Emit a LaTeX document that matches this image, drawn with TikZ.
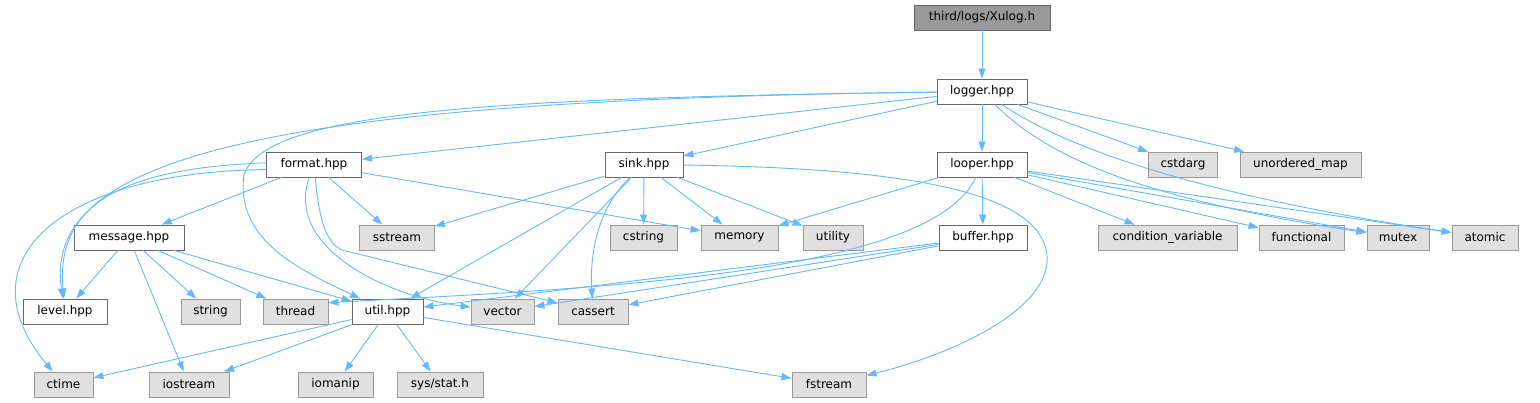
\documentclass[tikz,border=0pt]{standalone}
\usepackage{fontspec}
\setmainfont{DejaVu Sans}
\usetikzlibrary{arrows.meta}

\definecolor{edgeblue}{HTML}{63B8FF}
\definecolor{hdrborder}{HTML}{666666}
\definecolor{sysborder}{HTML}{999999}
\definecolor{sysfill}{HTML}{E0E0E0}
\definecolor{rootfill}{HTML}{999999}

\tikzset{
    filebox/.style={draw=hdrborder, fill=white, line width=0.9pt, minimum height=25pt, inner sep=0pt, font=\fontsize{12}{14}\selectfont},
    sysbox/.style={filebox, draw=sysborder, fill=sysfill},
    rootbox/.style={filebox, fill=rootfill},
    inc/.style={draw=edgeblue, line width=0.9pt, -{Triangle[length=10pt, width=7pt]}}
}

\begin{document}
\begin{tikzpicture}[x=1pt, y=-1pt]
    \useasboundingbox (0,0) rectangle (1540,403);

    % Draw nodes
    \node[rootbox, minimum width=136pt] (xulog) at (982,17.5) {third/logs/Xulog.h};
    \node[filebox, minimum width=90pt] (logger) at (982,91.5) {logger.hpp};

    \node[filebox, minimum width=95pt] (format) at (314,164.5) {format.hpp};
    \node[filebox, minimum width=78pt] (sink) at (644,164.5) {sink.hpp};
    \node[filebox, minimum width=90pt] (looper) at (982,164.5) {looper.hpp};
    \node[sysbox, minimum width=69pt] (cstdarg) at (1183,164.5) {cstdarg};
    \node[sysbox, minimum width=121pt] (umap) at (1300.5,164.5) {unordered\_map};

    \node[filebox, minimum width=110pt] (message) at (129,237.5) {message.hpp};
    \node[sysbox, minimum width=75pt] (sstream) at (397,237.5) {sstream};
    \node[sysbox, minimum width=67pt] (cstring) at (643.5,237.5) {cstring};
    \node[sysbox, minimum width=77pt] (memory) at (739.5,237.5) {memory};
    \node[sysbox, minimum width=60pt] (utility) at (833,237.5) {utility};
    \node[filebox, minimum width=88pt] (buffer) at (983,237.5) {buffer.hpp};
    \node[sysbox, minimum width=139pt] (condvar) at (1167.5,237.5) {condition\_variable};
    \node[sysbox, minimum width=85pt] (functional) at (1301.5,237.5) {functional};
    \node[sysbox, minimum width=62pt] (mutex) at (1398,237.5) {mutex};
    \node[sysbox, minimum width=66pt] (atomic) at (1485,237.5) {atomic};

    \node[filebox, minimum width=84pt] (level) at (65,311.5) {level.hpp};
    \node[sysbox, minimum width=59pt] (string) at (210.5,311.5) {string};
    \node[sysbox, minimum width=65pt] (thread) at (295.5,311.5) {thread};
    \node[filebox, minimum width=71pt] (util) at (387.5,311.5) {util.hpp};
    \node[sysbox, minimum width=63pt] (vector) at (502.5,311.5) {vector};
    \node[sysbox, minimum width=70pt] (cassert) at (593,311.5) {cassert};

    \node[sysbox, minimum width=59pt] (ctime) at (63.5,384.5) {ctime};
    \node[sysbox, minimum width=80pt] (iostream) at (189,384.5) {iostream};
    \node[sysbox, minimum width=75pt] (iomanip) at (335.5,384.5) {iomanip};
    \node[sysbox, minimum width=86pt] (sysstat) at (440,384.5) {sys/stat.h};
    \node[sysbox, minimum width=74pt] (fstream) at (829,384.5) {fstream};

    % Draw connections
    \draw[inc] (xulog) -- (logger);

    \draw[inc] (logger) -- (format);
    \draw[inc] (logger) -- (sink);
    \draw[inc] (logger) -- (looper);
    \draw[inc] (logger) -- (cstdarg);
    \draw[inc] (logger) -- (umap);
    \draw[inc] (logger) .. controls (1050,160) and (1150,200) .. (mutex);
    \draw[inc] (logger) .. controls (1070,150) and (1200,195) .. (atomic);
    \draw[inc] (logger) .. controls (300,100) and (40,150) .. (level);
    \draw[inc] (logger) .. controls (500,98) and (265,110) .. (244,175)
        .. controls (235,240) and (300,270) .. (util);

    \draw[inc] (format.178) .. controls (130,168) and (55,200) .. (level);
    \draw[inc] (format.186) .. controls (60,172) and (-40,260) .. (ctime);
    \draw[inc] (format) -- (message);
    \draw[inc] (format) -- (sstream);
    \draw[inc] (format) -- (memory);
    \draw[inc] (format) .. controls (285,245) and (380,295) .. (vector);
    \draw[inc] (format) .. controls (320,230) and (330,250) .. (350,252) -- (cassert);

    \draw[inc] (sink) -- (sstream);
    \draw[inc] (sink) -- (cstring);
    \draw[inc] (sink) -- (memory);
    \draw[inc] (sink) -- (utility);
    \draw[inc] (sink) -- (util);
    \draw[inc] (sink) -- (vector);
    \draw[inc] (sink) .. controls (595,210) and (590,260) .. (cassert);
    \draw[inc] (sink) .. controls (900,168) and (1040,190) .. (1047,255)
        .. controls (1052,310) and (950,355) .. (fstream);

    \draw[inc] (looper) -- (buffer);
    \draw[inc] (looper) -- (memory);
    \draw[inc] (looper) -- (condvar);
    \draw[inc] (looper) -- (functional);
    \draw[inc] (looper) -- (mutex);
    \draw[inc] (looper) -- (atomic);
    \draw[inc] (looper) .. controls (930,275) and (600,288) .. (thread.15);

    \draw[inc] (buffer) -- (util);
    \draw[inc] (buffer) -- (vector);
    \draw[inc] (buffer) -- (cassert);

    \draw[inc] (message) -- (level);
    \draw[inc] (message) -- (iostream);
    \draw[inc] (message) -- (string);
    \draw[inc] (message) -- (thread);
    \draw[inc] (message) -- (util);

    \draw[inc] (util) -- (ctime);
    \draw[inc] (util) -- (iostream);
    \draw[inc] (util) -- (iomanip);
    \draw[inc] (util) -- (sysstat);
    \draw[inc] (util) -- (fstream);
\end{tikzpicture}
\end{document}
